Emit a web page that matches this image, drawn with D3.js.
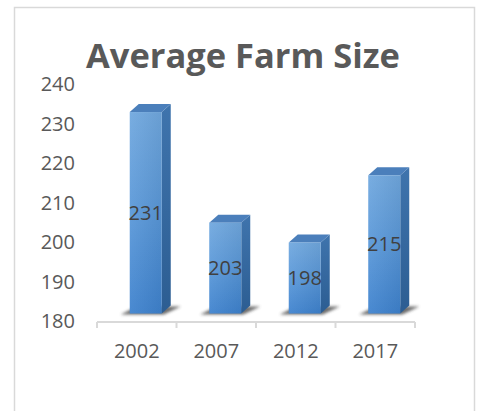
<!DOCTYPE html>
<html>
<head>
<meta charset="utf-8">
<script src="https://cdn.jsdelivr.net/npm/d3@7"></script>
<style>
  html, body { margin: 0; padding: 0; background: #ffffff; }
  svg { display: block; }
  text { font-family: "Open Sans", "DejaVu Sans", sans-serif; }
</style>
</head>
<body>
<svg id="chart" width="480" height="411"></svg>
<script>
// Average farm size by census year
const years = ["2002", "2007", "2012", "2017"];
const sizes = [231, 203, 198, 215];
const yTicks = [180, 190, 200, 210, 220, 230, 240];
const chartTitle = "Average Farm Size";

const svg = d3.select("#chart");
const W = 480, H = 411;

// chart frame
svg.append("rect")
  .attr("x", 14.5).attr("y", 7.5)
  .attr("width", 460).attr("height", 410)
  .attr("fill", "#ffffff")
  .attr("stroke", "#d9d9d9").attr("stroke-width", 1.5);

const x = d3.scaleBand().domain(years).range([97, 415]).paddingInner(0).paddingOuter(0);
const y = d3.scaleLinear().domain([180, 240]).range([321.5, 84.5]);

// bar geometry (3D column)
const faceW = 32, depthX = 9, depthY = 8, faceShift = -7;

const defs = svg.append("defs");
const gFront = defs.append("linearGradient").attr("id", "front")
  .attr("x1", 0).attr("y1", 0).attr("x2", 0).attr("y2", 1);
gFront.append("stop").attr("offset", "0%").attr("stop-color", "#70a8df");
gFront.append("stop").attr("offset", "55%").attr("stop-color", "#5796d8");
gFront.append("stop").attr("offset", "100%").attr("stop-color", "#3e82ce");

const gFrontH = defs.append("linearGradient").attr("id", "frontH")
  .attr("x1", 0).attr("y1", 0).attr("x2", 1).attr("y2", 0);
gFrontH.append("stop").attr("offset", "0%").attr("stop-color", "#ffffff").attr("stop-opacity", 0.06);
gFrontH.append("stop").attr("offset", "100%").attr("stop-color", "#000000").attr("stop-opacity", 0.06);

const gSide = defs.append("linearGradient").attr("id", "side")
  .attr("x1", 0).attr("y1", 0).attr("x2", 0).attr("y2", 1);
gSide.append("stop").attr("offset", "0%").attr("stop-color", "#3f74ad");
gSide.append("stop").attr("offset", "100%").attr("stop-color", "#2c5d92");

const blur = defs.append("filter").attr("id", "shadowBlur")
  .attr("x", "-30%").attr("y", "-100%").attr("width", "160%").attr("height", "300%");
blur.append("feGaussianBlur").attr("stdDeviation", 1.6);

// y axis labels
const yAxis = d3.axisLeft(y).tickValues(yTicks).tickSize(0).tickPadding(0);
const yG = svg.append("g").attr("transform", "translate(75,0)").call(yAxis);
yG.select(".domain").remove();
yG.selectAll("text")
  .attr("font-size", 20).attr("fill", "#595959")
  .attr("font-family", "'Open Sans', sans-serif");

// x axis baseline with boundary ticks
const xAxisY = 322;
const axisG = svg.append("g");
axisG.append("line")
  .attr("x1", x.range()[0]).attr("x2", x.range()[1])
  .attr("y1", xAxisY).attr("y2", xAxisY)
  .attr("stroke", "#d9d9d9").attr("stroke-width", 2);
const bounds = years.map(d => x(d)).concat([x.range()[1]]);
axisG.selectAll("line.tick").data(bounds).join("line")
  .attr("class", "tick")
  .attr("x1", d => d).attr("x2", d => d)
  .attr("y1", xAxisY).attr("y2", xAxisY + 6)
  .attr("stroke", "#d9d9d9").attr("stroke-width", 2);

const xAxis = d3.axisBottom(x).tickSize(0).tickPadding(0);
const xG = svg.append("g").attr("transform", `translate(0,${xAxisY})`).call(xAxis);
xG.select(".domain").remove();
xG.selectAll("text")
  .attr("font-size", 20).attr("fill", "#595959")
  .attr("font-family", "'Open Sans', sans-serif")
  .attr("dy", null).attr("y", 36);

// bars
const data = years.map((yr, i) => ({ year: yr, value: sizes[i] }));
const base = y(180) - depthY;

const bars = svg.append("g").selectAll("g.bar").data(data).join("g").attr("class", "bar");

bars.each(function(d) {
  const g = d3.select(this);
  const fx = x(d.year) + x.bandwidth() / 2 + faceShift;
  const top = y(d.value) - depthY;
  const bot = base;

  // floor shadow
  g.append("polygon")
    .attr("points", [
      [fx - 9, bot + 1], [fx + faceW + 2, bot + 1],
      [fx + faceW + depthX + 10, bot - depthY + 1], [fx + depthX - 2, bot - depthY + 1]
    ].map(p => p.join(",")).join(" "))
    .attr("fill", "#3a3a3a").attr("opacity", 0.75)
    .attr("filter", "url(#shadowBlur)");

  // side face
  g.append("polygon")
    .attr("points", [
      [fx + faceW, top], [fx + faceW + depthX, top - depthY],
      [fx + faceW + depthX, bot - depthY], [fx + faceW, bot]
    ].map(p => p.join(",")).join(" "))
    .attr("fill", "url(#side)");

  // top face
  g.append("polygon")
    .attr("points", [
      [fx, top], [fx + depthX, top - depthY],
      [fx + faceW + depthX, top - depthY], [fx + faceW, top]
    ].map(p => p.join(",")).join(" "))
    .attr("fill", "#4b7fbb");

  // front face
  g.append("rect")
    .attr("x", fx).attr("y", top)
    .attr("width", faceW).attr("height", bot - top)
    .attr("fill", "url(#front)");
  g.append("rect")
    .attr("x", fx).attr("y", top)
    .attr("width", faceW).attr("height", bot - top)
    .attr("fill", "url(#frontH)");

  // value label
  g.append("text")
    .attr("x", fx + faceW / 2)
    .attr("y", (top + bot) / 2 + 7)
    .attr("text-anchor", "middle")
    .attr("font-size", 20)
    .attr("fill", "#404040")
    .text(d.value);
});

// title
const title = svg.append("text")
  .attr("x", 243).attr("y", 68)
  .attr("text-anchor", "middle")
  .attr("font-size", 36).attr("font-weight", "bold")
  .attr("fill", "#595959")
  .text(chartTitle);
const tw = title.node().getComputedTextLength();
if (tw > 0) title.attr("font-size", 36 * 314 / tw);
</script>
</body>
</html>
